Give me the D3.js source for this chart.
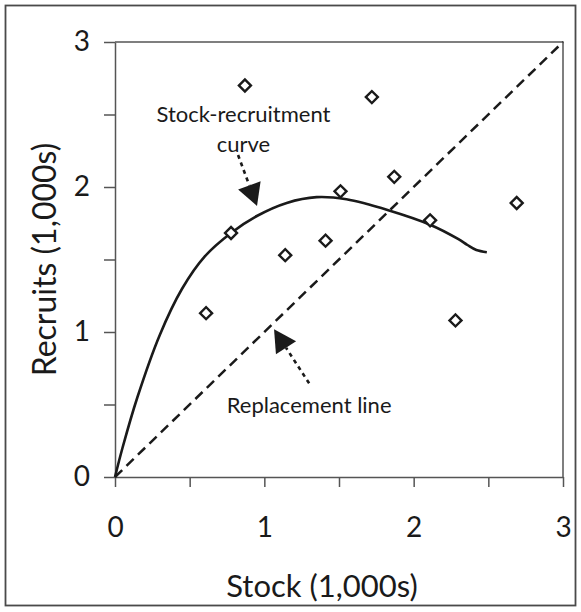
<!DOCTYPE html>
<html>
<head>
<meta charset="utf-8">
<script src="https://cdn.jsdelivr.net/npm/d3@7"></script>
<style>
  body { margin: 0; background: #fff; }
  text { font-family: Lato, "Open Sans", sans-serif; fill: #1a1a1a; }
</style>
</head>
<body>
<svg id="chart" width="581" height="612"></svg>
<script>
// Observed stock / recruitment pairs (thousands)
const stock    = [0.61, 0.777, 0.87, 1.14, 1.41, 1.51, 1.72, 1.87, 2.11, 2.28, 2.69];
const recruits = [1.13, 1.683, 2.70, 1.53, 1.63, 1.97, 2.62, 2.07, 1.77, 1.08, 1.89];

// Fitted stock-recruitment curve
const curveStock    = [0, 0.05, 0.15, 0.30, 0.45, 0.60, 0.777, 0.95, 1.15, 1.35, 1.55, 1.83, 2.11, 2.30, 2.36, 2.42, 2.49];
const curveRecruits = [0, 0.20, 0.55, 0.98, 1.30, 1.52, 1.683, 1.80, 1.89, 1.93, 1.915, 1.84, 1.74, 1.64, 1.60, 1.565, 1.55];

// Replacement line: recruits = stock
const replaceStock    = [0, 3];
const replaceRecruits = [0, 3];

const allTicks = [0, 0.5, 1, 1.5, 2, 2.5, 3];

const xTitle = "Stock (1,000s)";
const yTitle = "Recruits (1,000s)";

// Annotations (data coordinates)
const srLabel   = { lines: ["Stock-recruitment", "curve"], x: 0.86, y: [2.448, 2.241] };
const srArrow   = { from: [0.824, 2.221], to: [0.951, 1.869] };
const replLabel = { text: "Replacement line", x: 1.3, y: 0.441 };
const replArrow = { from: [1.30, 0.646], to: [1.065, 1.019] };

const svg = d3.select("#chart");
const mLeft = 115, mRight = 563, mTop = 42, mBottom = 477;

const x = d3.scaleLinear().domain([0, 3]).range([mLeft, mRight]);
const y = d3.scaleLinear().domain([0, 3]).range([mBottom, mTop]);

// Outer frame
svg.append("rect")
  .attr("x", 5.5).attr("y", 5.5).attr("width", 570).attr("height", 600)
  .attr("fill", "none").attr("stroke", "#4a4a4a").attr("stroke-width", 1.8);

const axisColor = "#555";
const fmt = d => Number.isInteger(d) ? d : "";

// Y axis
const gy = svg.append("g").attr("transform", `translate(${mLeft},0)`)
  .call(d3.axisLeft(y).tickValues(allTicks).tickFormat(fmt).tickSize(11).tickSizeOuter(0).tickPadding(14));
// X axis
const gx = svg.append("g").attr("transform", `translate(0,${mBottom})`)
  .call(d3.axisBottom(x).tickValues(allTicks).tickFormat(fmt).tickSize(10).tickSizeOuter(0).tickPadding(30));

[gx, gy].forEach(g => {
  g.select(".domain").attr("stroke", axisColor).attr("stroke-width", 1.5);
  g.selectAll(".tick line").attr("stroke", axisColor).attr("stroke-width", 1.5);
  g.selectAll(".tick text").attr("fill", "#1a1a1a").style("font-size", "28px")
    .style("font-family", "Lato, 'Open Sans', sans-serif");
});

// Top and right frame of plot area
svg.append("path")
  .attr("d", `M${x(0)},${y(3)}H${x(3)}V${y(0)}`)
  .attr("fill", "none").attr("stroke", axisColor).attr("stroke-width", 1.5);

// Axis titles
svg.append("text")
  .attr("x", 322).attr("y", 597)
  .attr("text-anchor", "middle").style("font-size", "31px")
  .text(xTitle);
svg.append("text")
  .attr("transform", `translate(56,${(mTop + mBottom) / 2}) rotate(-90)`)
  .attr("text-anchor", "middle").style("font-size", "32px")
  .text(yTitle);

// Replacement line
const line = d3.line().x(d => x(d[0])).y(d => y(d[1]));
svg.append("path")
  .datum(d3.zip(replaceStock, replaceRecruits))
  .attr("d", line)
  .attr("fill", "none").attr("stroke", "#1a1a1a").attr("stroke-width", 2.5)
  .attr("stroke-dasharray", "10,6");

// Stock-recruitment curve
svg.append("path")
  .datum(d3.zip(curveStock, curveRecruits))
  .attr("d", line.curve(d3.curveCatmullRom.alpha(0.5)))
  .attr("fill", "none").attr("stroke", "#1a1a1a").attr("stroke-width", 2.6);

// Observations
svg.append("g").selectAll("path")
  .data(d3.zip(stock, recruits))
  .join("path")
  .attr("transform", d => `translate(${x(d[0])},${y(d[1])}) rotate(45)`)
  .attr("d", d3.symbol(d3.symbolSquare, 72))
  .attr("fill", "#fff").attr("stroke", "#1a1a1a").attr("stroke-width", 2.4);

// Annotation arrows: dotted shaft + solid triangular head
function arrow(a) {
  const x0 = x(a.from[0]), y0 = y(a.from[1]);
  const x1 = x(a.to[0]),   y1 = y(a.to[1]);
  const dx = x1 - x0, dy = y1 - y0, len = Math.hypot(dx, dy);
  const ux = dx / len, uy = dy / len;
  const headLen = 22, headHalf = 12;
  const bx = x1 - ux * headLen, by = y1 - uy * headLen;
  svg.append("line")
    .attr("x1", x0).attr("y1", y0).attr("x2", bx).attr("y2", by)
    .attr("stroke", "#1a1a1a").attr("stroke-width", 2.6).attr("stroke-dasharray", "4,4");
  svg.append("path")
    .attr("d", `M${x1},${y1}L${bx - uy * headHalf},${by + ux * headHalf}L${bx + uy * headHalf},${by - ux * headHalf}Z`)
    .attr("fill", "#1a1a1a");
}
arrow(srArrow);
arrow(replArrow);

// Annotation labels
srLabel.lines.forEach((t, i) => {
  svg.append("text")
    .attr("x", x(srLabel.x)).attr("y", y(srLabel.y[i]))
    .attr("text-anchor", "middle").style("font-size", "22px")
    .text(t);
});
svg.append("text")
  .attr("x", x(replLabel.x)).attr("y", y(replLabel.y))
  .attr("text-anchor", "middle").style("font-size", "22px")
  .text(replLabel.text);
</script>
</body>
</html>
